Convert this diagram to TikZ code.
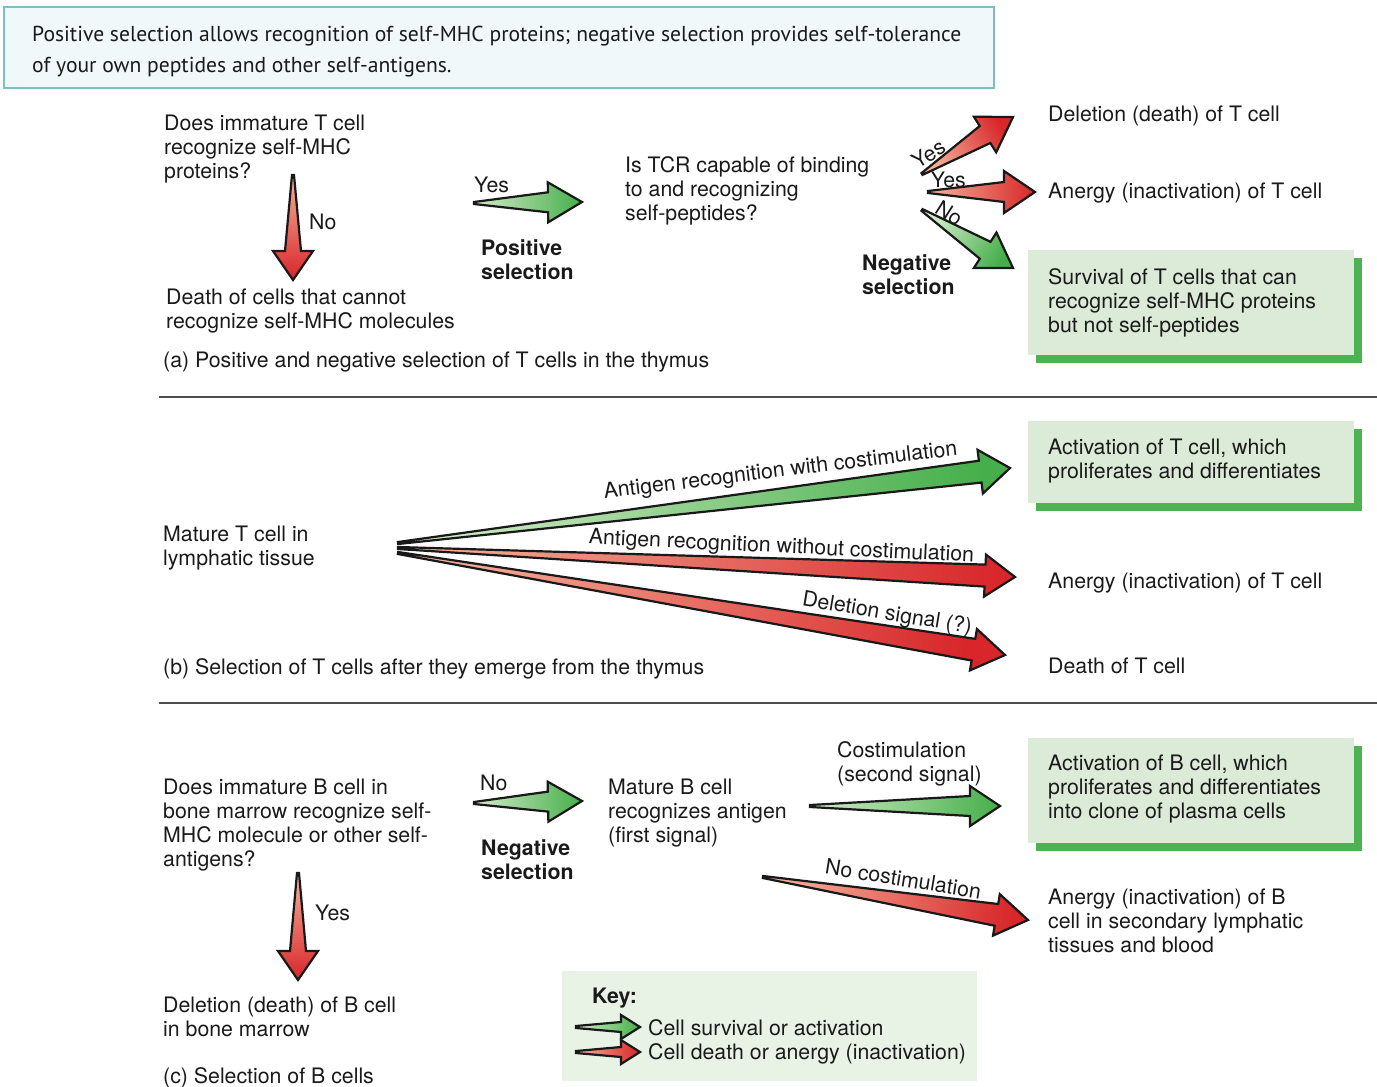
\documentclass[tikz,border=0pt]{standalone}
\usepackage{fontspec}
\setmainfont{TeX Gyre Heros}
\newfontfamily\hdrfont{PT Sans}
\usetikzlibrary{calc}
\definecolor{Glight}{HTML}{D2ECC8}
\definecolor{Gdark}{HTML}{46AF4B}
\definecolor{Rlight}{HTML}{F5B29A}
\definecolor{Rdark}{HTML}{D8262A}
\definecolor{boxfill}{HTML}{DCEBD8}
\definecolor{boxshadow}{HTML}{4DB352}
\definecolor{keyfill}{HTML}{E8F3E6}
\definecolor{hdrfill}{HTML}{F1F8FA}
\definecolor{hdrline}{HTML}{7FBEC2}
\definecolor{ink}{HTML}{1A1A1A}
\definecolor{sepcol}{HTML}{4D4D4D}

\newcommand\ml[1]{\begin{tabular}[t]{@{}l@{}}#1\end{tabular}}

% tapered shaded arrow: #1 tail, #2 tip, #3 half shaft, #4 half head, #5 head length, #6 colour prefix
\newcommand\tarr[6]{%
  \pgfmathanglebetweenpoints{\pgfpointanchor{#1}{center}}{\pgfpointanchor{#2}{center}}%
  \pgfmathsetmacro\arrang{\pgfmathresult-90}%
  \coordinate (hb) at ($(#2)!#5pt!(#1)$);
  \shadedraw[arrowline, bottom color=#6light, top color=#6dark, shading angle=\arrang]
    ($(#1)!1pt!90:(#2)$) -- ($(hb)!#3pt!90:(#2)$) -- ($(hb)!#4pt!90:(#2)$) -- (#2)
    -- ($(hb)!#4pt!-90:(#2)$) -- ($(hb)!#3pt!-90:(#2)$) -- ($(#1)!1pt!-90:(#2)$) -- cycle;
}

\begin{document}
\begin{tikzpicture}[x=1pt, y=-1pt,
  tx/.style={anchor=base west, inner sep=0pt, text=ink, font=\fontsize{21.3}{24}\selectfont},
  tb/.style={anchor=base west, inner sep=0pt, text=ink, font=\fontsize{21.3}{24}\selectfont\bfseries},
  lbl/.style={anchor=base, inner sep=0pt, sloped, text=ink, font=\fontsize{21.3}{24}\selectfont},
  arrowline/.style={draw=black!90, line width=2.2pt, line join=miter, miter limit=4},
  sepline/.style={draw=sepcol, line width=1.5pt},
  greenbox/.style={fill=boxfill},
  shadowbox/.style={fill=boxshadow}]
\useasboundingbox (0,0) rectangle (1377,1087);
\fill[white] (0,0) rectangle (1377,1087);

% header
\draw[draw=hdrline, fill=hdrfill, line width=1.5pt] (4,7) rectangle (994,88);
\node[anchor=base west, inner sep=0pt, text=ink, font=\hdrfont\fontsize{21.6}{31}\selectfont] (hdr) at (32,41)
  {\ml{Positive selection allows recognition of self-MHC proteins; negative selection provides self-tolerance\\of your own peptides and other self-antigens.}};

% ---------------- (a)
\node[tx] (q1) at (164,130) {\ml{Does immature T cell\\recognize self-MHC\\proteins?}};
\coordinate (d1t) at (293,175); \coordinate (d1h) at (293,280);
\tarr{d1t}{d1h}{8}{20}{29}{R}
\node[tx] (no1) at (309,229) {No};
\node[tx] (death1) at (166,304) {\ml{Death of cells that cannot\\recognize self-MHC molecules}};

\coordinate (y1t) at (474,203); \coordinate (y1h) at (582,202);
\tarr{y1t}{y1h}{10}{20}{34}{G}
\node[tx] (yes1) at (474,192) {Yes};
\node[tb] (pos1) at (481,255) {\ml{Positive\\selection}};
\node[tx] (tcr) at (625,172) {\ml{Is TCR capable of binding\\to and recognizing\\self-peptides?}};

\coordinate (nUt) at (922,174); \coordinate (nUh) at (1013,117);
\coordinate (nMt) at (928,192); \coordinate (nMh) at (1035,192);
\coordinate (nDt) at (922,210); \coordinate (nDh) at (1013,268);
\tarr{nUt}{nUh}{10}{21}{33}{R}
\tarr{nMt}{nMh}{10}{21}{31}{R}
\tarr{nDt}{nDh}{10}{21}{33}{G}
\path (nUt) -- node[lbl, pos=0.15, yshift=6pt] (yesU) {Yes} (nUh);
\path (nMt) -- node[lbl, pos=0.19, yshift=5pt] (yesM) {Yes} (nMh);
\path (nDt) -- node[lbl, pos=0.23, yshift=4pt] (noD) {No} (nDh);
\node[tb] (neg1) at (862,270) {\ml{Negative\\selection}};

\node[tx] (del1) at (1048,121) {Deletion (death) of T cell};
\node[tx] (ane1) at (1048,198) {Anergy (inactivation) of T cell};
\fill[shadowbox] (1036,258) rectangle (1362,363);
\fill[greenbox] (1028,250) rectangle (1354,355);
\node[tx] (surv) at (1048,284) {\ml{Survival of T cells that can\\recognize self-MHC proteins\\but not self-peptides}};
\node[tx] (capa) at (163,367) {(a) Positive and negative selection of T cells in the thymus};
\draw[sepline] (159,397) -- (1377,397);

% ---------------- (b)
\fill[shadowbox] (1036,429) rectangle (1362,511);
\fill[greenbox] (1028,421) rectangle (1354,503);
\node[tx] (actT) at (1048,454) {\ml{Activation of T cell, which\\proliferates and differentiates}};
\node[tx] (mat) at (163,541) {\ml{Mature T cell in\\lymphatic tissue}};
\coordinate (bGt) at (398,543); \coordinate (bGh) at (1010,468);
\coordinate (bMt) at (398,548); \coordinate (bMh) at (1015,577);
\coordinate (bDt) at (398,553); \coordinate (bDh) at (1005,655);
\tarr{bGt}{bGh}{11}{22}{30}{G}
\tarr{bMt}{bMh}{11}{21}{30}{R}
\tarr{bDt}{bDh}{11}{21}{32}{R}
\path (bGt) -- node[lbl, pos=0.63, yshift=19pt] (lbG) {Antigen recognition with costimulation} (bGh);
\path (bMt) -- node[lbl, pos=0.62, yshift=13pt] (lbM) {Antigen recognition without costimulation} (bMh);
\path (bDt) -- node[lbl, pos=0.80, yshift=15pt] (lbD) {Deletion signal (?)} (bDh);
\node[tx] (ane2) at (1048,588) {Anergy (inactivation) of T cell};
\node[tx] (dth2) at (1048,673) {Death of T cell};
\node[tx] (capb) at (163,674) {(b) Selection of T cells after they emerge from the thymus};
\draw[sepline] (159,703) -- (1377,703);

% ---------------- (c)
\node[tx] (qb) at (163,794) {\ml{Does immature B cell in\\bone marrow recognize self-\\MHC molecule or other self-\\antigens?}};
\coordinate (d2t) at (298,873); \coordinate (d2h) at (298,980);
\tarr{d2t}{d2h}{8}{20}{29}{R}
\node[tx] (yes2) at (315,920) {Yes};
\node[tx] (delB) at (163,1012) {\ml{Deletion (death) of B cell\\in bone marrow}};
\node[tx] (capc) at (163,1083) {(c) Selection of B cells};

\coordinate (n2t) at (474,803); \coordinate (n2h) at (582,801);
\tarr{n2t}{n2h}{10}{20}{34}{G}
\node[tx] (no2) at (480,790) {No};
\node[tb] (neg2) at (481,855) {\ml{Negative\\selection}};
\node[tx] (matB) at (608,794) {\ml{Mature B cell\\recognizes antigen\\(first signal)}};
\node[tx] (cost) at (837,757) {\ml{Costimulation\\(second signal)}};
\coordinate (cGt) at (810,806); \coordinate (cGh) at (1000,806);
\tarr{cGt}{cGh}{10}{20}{30}{G}
\fill[shadowbox] (1036,746) rectangle (1362,851);
\fill[greenbox] (1028,738) rectangle (1354,843);
\node[tx] (actB) at (1048,770) {\ml{Activation of B cell, which\\proliferates and differentiates\\into clone of plasma cells}};
\coordinate (cRt) at (763,877); \coordinate (cRh) at (1028,920);
\tarr{cRt}{cRh}{11}{21}{32}{R}
\path (cRt) -- node[lbl, pos=0.517, yshift=13pt] (lbNC) {No costimulation} (cRh);
\node[tx] (aneB) at (1048,904) {\ml{Anergy (inactivation) of B\\cell in secondary lymphatic\\tissues and blood}};

% key
\fill[keyfill] (562,971) rectangle (977,1081);
\node[tb] (key) at (592,1003) {Key:};
\coordinate (kGt) at (576,1027); \coordinate (kGh) at (640,1027);
\coordinate (kRt) at (576,1052); \coordinate (kRh) at (640,1052);
\tarr{kGt}{kGh}{5}{12}{19}{G}
\tarr{kRt}{kRh}{5}{12}{19}{R}
\node[tx] (kG) at (648,1035) {Cell survival or activation};
\node[tx] (kR) at (648,1059) {Cell death or anergy (inactivation)};
\end{tikzpicture}
\end{document}
